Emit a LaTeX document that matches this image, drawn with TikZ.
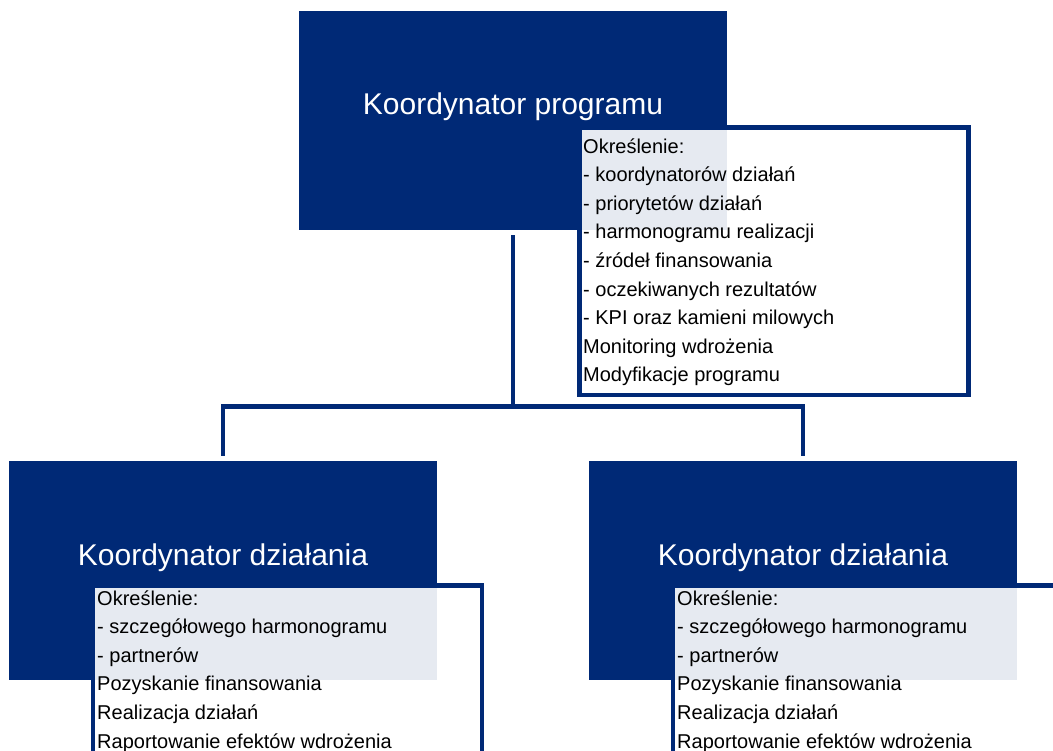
\documentclass[tikz,border=0pt]{standalone}
\usepackage{fontspec}
\setmainfont{Liberation Sans}
\usepackage{xcolor}
\usepackage{tikz}

\definecolor{granat}{RGB}{0,41,118}

\tikzset{
  kier/.style={fill=granat, draw=none, minimum width=428pt, minimum height=219pt, inner sep=0pt},
  tytul/.style={anchor=base, text=white, inner sep=0pt, font=\fontsize{30}{36}\selectfont},
  zadania/.style={draw=granat, line width=4.5pt, fill=white, fill opacity=0.9, minimum width=389pt, minimum height=267.5pt, inner sep=0pt},
  lista/.style={anchor=base west, align=left, inner sep=0pt, font=\fontsize{20}{28.6}\selectfont},
  polaczenie/.style={draw=granat, line width=4.5pt}
}

\begin{document}
\begin{tikzpicture}[x=1pt, y=-1pt]
\useasboundingbox (0,0) rectangle (1053,751);

% Koordynator programu
\node[kier] (prog) at (513,120.5) {};
\node[tytul] (progtytul) at (513,115) {Koordynator programu};

% Koordynatorzy dzialan
\node[kier] (dzialL) at (223,570.5) {};
\node[tytul] (dzialLtytul) at (223,565) {Koordynator działania};
\node[kier] (dzialP) at (803,570.5) {};
\node[tytul] (dzialPtytul) at (803,565) {Koordynator działania};

% Polaczenia
\coordinate (wezel) at (513,406.5);
\draw[polaczenie] ([yshift=-5pt]prog.south) -- (wezel);
\draw[polaczenie] ([yshift=5pt]dzialL.north) |- (wezel) -| ([yshift=5pt]dzialP.north);

% Zadania koordynatora programu (base = ostatni wiersz)
\node[zadania] (progzad) at (774,261.25) {};
\node[lista] (proglista) at (583,382) {Określenie:\\- koordynatorów działań\\- priorytetów działań\\- harmonogramu realizacji\\- źródeł finansowania\\- oczekiwanych rezultatów\\- KPI oraz kamieni milowych\\Monitoring wdrożenia\\Modyfikacje programu};

% Zadania koordynatorow dzialan
\node[zadania] (dzialLzad) at (287.5,719.25) {};
\node[lista] (dzialLlista) at (97,748) {Określenie:\\- szczegółowego harmonogramu\\- partnerów\\Pozyskanie finansowania\\Realizacja działań\\Raportowanie efektów wdrożenia};
\node[zadania] (dzialPzad) at (867.5,719.25) {};
\node[lista] (dzialPlista) at (677,748) {Określenie:\\- szczegółowego harmonogramu\\- partnerów\\Pozyskanie finansowania\\Realizacja działań\\Raportowanie efektów wdrożenia};

\end{tikzpicture}
\end{document}
